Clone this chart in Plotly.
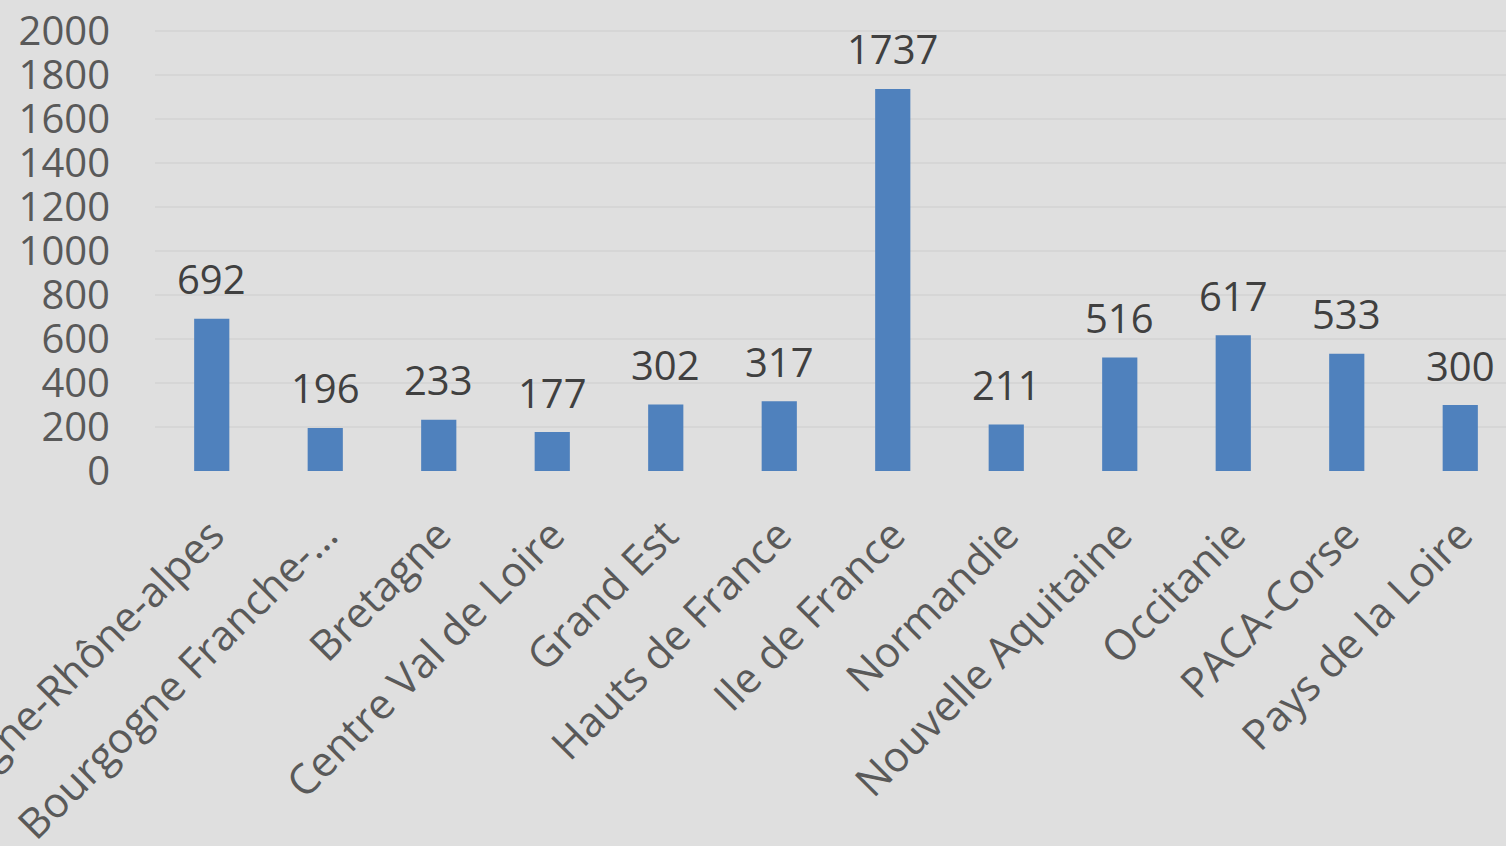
import plotly.graph_objects as go

categories = ["Auvergne-Rhône-alpes", "Bourgogne Franche-…", "Bretagne", "Centre Val de Loire",
              "Grand Est", "Hauts de France", "Ile de France", "Normandie",
              "Nouvelle Aquitaine", "Occitanie", "PACA-Corse", "Pays de la Loire"]
values = [692, 196, 233, 177, 302, 317, 1737, 211, 516, 617, 533, 300]
y_ticks = [0, 200, 400, 600, 800, 1000, 1200, 1400, 1600, 1800, 2000]

FONT = "Open Sans"
BG = "#dfdfdf"

fig = go.Figure(go.Bar(
    x=categories, y=values,
    marker=dict(color="#4f81bd", line=dict(width=0)),
    width=0.31,
    hoverinfo="skip",
))

# data labels above bars
for c, v in zip(categories, values):
    fig.add_annotation(
        x=c, y=v, text=str(v), showarrow=False,
        yanchor="middle", xanchor="center", yshift=40,
        font=dict(family=FONT, size=40, color="#404040"),
    )

fig.update_layout(
    width=1506, height=846,
    paper_bgcolor=BG, plot_bgcolor=BG,
    margin=dict(l=155, r=0, t=30, b=375, autoexpand=False),
    showlegend=False,
    bargap=0.69,
)
fig.update_xaxes(
    range=[-0.5, 11.403],
    tickangle=-45,
    tickfont=dict(family=FONT, size=42, color="#595959"),
    showgrid=False, zeroline=False, showline=False,
    ticks="", ticklabelstandoff=30,
    automargin=False,
)
fig.update_yaxes(
    range=[0, 2005],
    tickvals=y_ticks,
    tickfont=dict(family=FONT, size=40, color="#595959"),
    showgrid=True, gridcolor="#d6d6d6", gridwidth=1.5,
    zeroline=False, showline=False, ticks="",
    ticklabelstandoff=44,
    automargin=False,
)

fig.write_html(
    "out.html",
    config={"displayModeBar": False},
    post_script="document.body.style.margin='0';document.body.style.background='#dfdfdf';document.body.style.overflow='hidden';",
)
